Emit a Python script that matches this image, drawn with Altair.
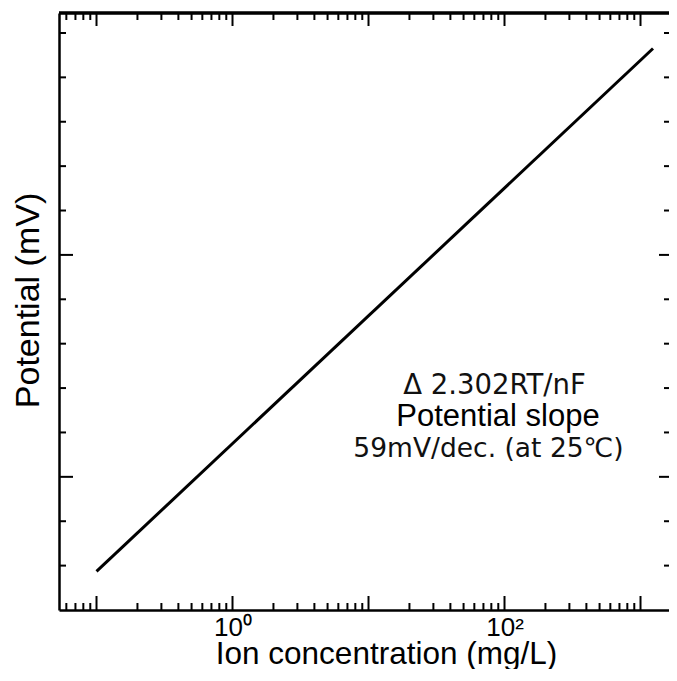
import altair as alt
import pandas as pd

# --- data ---
conc = [0.1, 1236.0]          # ion concentration (mg/L), log axis
potential = [0.87, 12.65]     # potential (tick units)

x_major = [0.1, 1, 10, 100, 1000]
x_minor = [round(m * 10 ** e, 6) for e in range(-2, 4) for m in range(2, 10)]
x_minor = [v for v in x_minor if 0.053 <= v <= 1620]
y_major = [3, 8]
y_minor = [v for v in range(1, 14) if v not in y_major]

ann_text_a = ["Δ 2.302RT/nF", "59mV/dec. (at 25℃)"]
ann_x_a = [84.4, 76.3]
ann_y_a = [5.04, 3.62]
ann_size_a = [27.5, 26.5]
ann_text_b = ["Potential slope"]
ann_x_b = [89.6]
ann_y_b = [4.34]

W, H = 610, 597

line_df = pd.DataFrame({"conc": conc, "potential": potential})
ann_a = pd.DataFrame({"text": ann_text_a, "x": ann_x_a, "y": ann_y_a, "s": ann_size_a})
ann_b = pd.DataFrame({"text": ann_text_b, "x": ann_x_b, "y": ann_y_b})
xmaj_df = pd.DataFrame({"v": x_major})
xmin_df = pd.DataFrame({"v": x_minor})
ymaj_df = pd.DataFrame({"v": y_major})
ymin_df = pd.DataFrame({"v": y_minor})

xs = alt.Scale(type="log", domain=[0.05299, 1620], nice=False)
ys = alt.Scale(domain=[0, 13.45], nice=False, zero=False)

x_axis = alt.Axis(
    orient="bottom", values=[1, 100], grid=False, ticks=False, tickSize=0,
    labelExpr="datum.value == 1 ? '10⁰' : '10²'",
    labelOverlap=False, labelFlush=False, labelFont="Liberation Sans", labelFontSize=26,
    labelColor="black", labelPadding=4, labelBaseline="top",
    domainColor="black", domainWidth=2.5,
    title="Ion concentration (mg/L)", titleFont="Liberation Sans", titleFontSize=31.5,
    titleFontWeight="normal", titleColor="black", titleX=327, titleY=53,
    titleBaseline="alphabetic", titleAlign="center",
)
y_axis = alt.Axis(
    orient="left", grid=False, labels=False, ticks=False, tickSize=0,
    domainColor="black", domainWidth=2.5,
    title="Potential (mV)", titleFont="Liberation Sans", titleFontSize=34,
    titleFontWeight="normal", titleColor="black", titleX=-21, titleY=287,
    titleBaseline="alphabetic", titleAngle=270, titleAlign="center",
)

X = lambda f: alt.X(f, scale=xs, axis=x_axis)
Y = lambda f: alt.Y(f, scale=ys, axis=y_axis)
tick = dict(color="black", strokeWidth=2)

line = alt.Chart(line_df).mark_line(color="black", strokeWidth=3).encode(
    x=X("conc:Q"), y=Y("potential:Q")
)

# inward ticks on all four sides
bot_min = alt.Chart(xmin_df).mark_rule(**tick).encode(x=X("v:Q"), y=alt.value(H), y2=alt.value(H - 7))
bot_maj = alt.Chart(xmaj_df).mark_rule(**tick).encode(x=X("v:Q"), y=alt.value(H), y2=alt.value(H - 14))
top_min = alt.Chart(xmin_df).mark_rule(**tick).encode(x=X("v:Q"), y=alt.value(0), y2=alt.value(7))
top_maj = alt.Chart(xmaj_df).mark_rule(**tick).encode(x=X("v:Q"), y=alt.value(0), y2=alt.value(13))
left_min = alt.Chart(ymin_df).mark_rule(**tick).encode(y=Y("v:Q"), x=alt.value(0), x2=alt.value(7))
left_maj = alt.Chart(ymaj_df).mark_rule(**tick).encode(y=Y("v:Q"), x=alt.value(0), x2=alt.value(14))
right_min = alt.Chart(ymin_df).mark_rule(**tick).encode(y=Y("v:Q"), x=alt.value(W - 5), x2=alt.value(W))
right_maj = alt.Chart(ymaj_df).mark_rule(**tick).encode(y=Y("v:Q"), x=alt.value(W - 10), x2=alt.value(W))
top_line = alt.Chart(xmaj_df).mark_rule(color="black", strokeWidth=2.5).encode(
    x=alt.value(0), x2=alt.value(W), y=alt.value(0)
)

text_b = alt.Chart(ann_b).mark_text(
    font="Liberation Sans", fontSize=31, color="black", align="center", baseline="middle"
).encode(x=X("x:Q"), y=Y("y:Q"), text="text:N")

text_a = alt.Chart(ann_a).mark_text(
    font="DejaVu Sans", color="#111", align="center", baseline="middle"
).encode(x=X("x:Q"), y=Y("y:Q"), text="text:N", size=alt.Size("s:Q", scale=None, legend=None))

chart = alt.layer(
    line, bot_min, bot_maj, top_min, top_maj, left_min, left_maj,
    right_min, right_maj, top_line, text_b, text_a
).properties(
    width=W, height=H,
    autosize=alt.AutoSizeParams(type="none"),
    padding={"left": 51, "top": 5, "right": 0, "bottom": 59},
).configure_view(strokeOpacity=0)

chart.save("out.html", embed_options={"renderer": "svg", "actions": False})
